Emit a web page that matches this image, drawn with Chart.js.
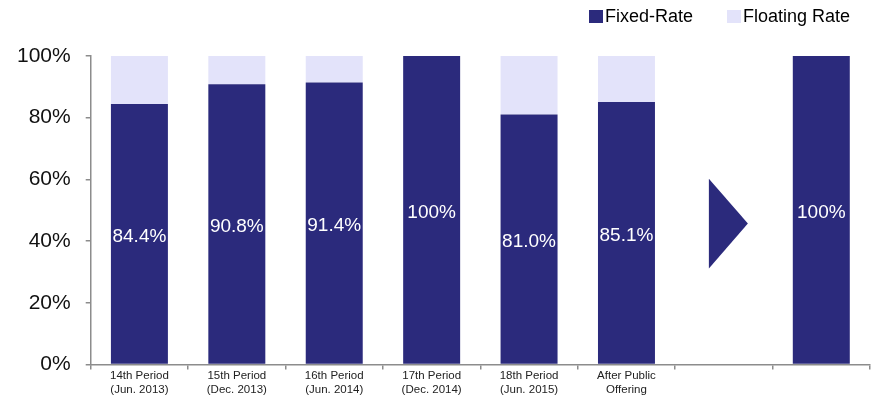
<!DOCTYPE html>
<html>
<head>
<meta charset="utf-8">
<script src="https://cdn.jsdelivr.net/npm/chart.js@4.4.1/dist/chart.umd.min.js"></script>
<style>
  html, body { margin: 0; padding: 0; background: #fff; }
  #wrap { width: 876px; height: 397px; position: relative; }
  #legend {
    position: absolute; top: 5px; left: 589px;
    font: 18px "Liberation Sans", Arial, sans-serif; color: #000;
    white-space: nowrap; line-height: 22px;
  }
  #legend span.item { display: inline-block; }
  #legend i { display: inline-block; width: 14px; height: 13px; margin-right: 2px; vertical-align: -1px; }
  #legend span.item + span.item { margin-left: 34px; }
</style>
</head>
<body>
<div id="wrap">
  <canvas id="rateChart"></canvas>
  <div id="legend"></div>
</div>
<script>
// periods (the 7th slot holds the arrow, the 8th is the target state)
var periods = [
	['14th Period', '(Jun. 2013)'],
	['15th Period', '(Dec. 2013)'],
	['16th Period', '(Jun. 2014)'],
	['17th Period', '(Dec. 2014)'],
	['18th Period', '(Jun. 2015)'],
	['After Public', 'Offering'],
	'',
	''
];
var fixedRate = [84.4, 90.8, 91.4, 100, 81.0, 85.1, null, 100];
var floatingRate = [15.6, 9.2, 8.6, 0, 19.0, 14.9, null, 0];
var yTicks = [0, 20, 40, 60, 80, 100];

var navy = '#2b2a7c';
var lavender = '#e3e3fa';
var axisGray = '#8c8c8c';
var fontFamily = '"Liberation Sans", Arial, sans-serif';

// white value labels centred in the fixed-rate part of each bar
var valueLabels = {
	id : 'valueLabels',
	afterDatasetsDraw : function(chart) {
		var ctx = chart.ctx;
		var meta = chart.getDatasetMeta(0);
		ctx.save();
		ctx.fillStyle = '#fff';
		ctx.font = '19px ' + fontFamily;
		ctx.textAlign = 'center';
		ctx.textBaseline = 'middle';
		meta.data.forEach(function(bar, i) {
			var v = fixedRate[i];
			if (v == null) return;
			var txt = (v === 100) ? '100%' : v.toFixed(1) + '%';
			ctx.fillText(txt, bar.x, (bar.y + bar.base) / 2 + 3);
		});
		ctx.restore();
	}
};

// right-pointing arrow in the empty slot between the two groups
var arrow = {
	id : 'arrow',
	afterDatasetsDraw : function(chart) {
		var ctx = chart.ctx;
		var x = chart.scales.x.getPixelForValue(6);
		var y = chart.scales.y;
		var top = y.getPixelForValue(60.2);
		var bottom = y.getPixelForValue(31.1);
		ctx.save();
		ctx.fillStyle = navy;
		ctx.beginPath();
		ctx.moveTo(x - 15, top);
		ctx.lineTo(x + 24, (top + bottom) / 2);
		ctx.lineTo(x - 15, bottom);
		ctx.closePath();
		ctx.fill();
		ctx.restore();
	}
};

var ctx = document.getElementById('rateChart');

var chart = new Chart(ctx, {
	type : 'bar',
	data : {
		labels : periods,
		datasets : [
			{
				label : 'Fixed-Rate',
				data : fixedRate,
				backgroundColor : navy,
				categoryPercentage : 1,
				barPercentage : 0.585
			},
			{
				label : 'Floating Rate',
				data : floatingRate,
				backgroundColor : lavender,
				categoryPercentage : 1,
				barPercentage : 0.585
			}
		]
	},
	options : {
		responsive : true,
		maintainAspectRatio : false,
		animation : false,
		layout : {
			padding : { left : 2, right : 6, top : 56, bottom : 0 }
		},
		plugins : {
			legend : { display : false },
			tooltip : { enabled : false }
		},
		scales : {
			x : {
				stacked : true,
				border : { color : axisGray, width : 1.5 },
				grid : {
					drawOnChartArea : false,
					color : axisGray,
					lineWidth : 1.5,
					tickLength : 5
				},
				ticks : {
					color : '#222',
					padding : 0,
					maxRotation : 0,
					autoSkip : false,
					font : { family : fontFamily, size : 11.5, lineHeight : 1.2 }
				}
			},
			y : {
				stacked : true,
				min : 0,
				max : 100,
				afterBuildTicks : function(axis) {
					axis.ticks = yTicks.map(function(v) { return { value : v }; });
				},
				border : { color : axisGray, width : 1.5 },
				grid : {
					drawOnChartArea : false,
					color : axisGray,
					lineWidth : 1.5,
					tickLength : 5
				},
				ticks : {
					color : '#111',
					padding : 15,
					font : { family : fontFamily, size : 21 },
					callback : function(v) { return v + '%'; }
				}
			}
		}
	},
	plugins : [valueLabels, arrow]
});

// legend built from the dataset names and colours
var legend = document.getElementById('legend');
chart.data.datasets.forEach(function(ds) {
	var item = document.createElement('span');
	item.className = 'item';
	var box = document.createElement('i');
	box.style.background = ds.backgroundColor;
	item.appendChild(box);
	item.appendChild(document.createTextNode(ds.label));
	legend.appendChild(item);
});
</script>
</body>
</html>
